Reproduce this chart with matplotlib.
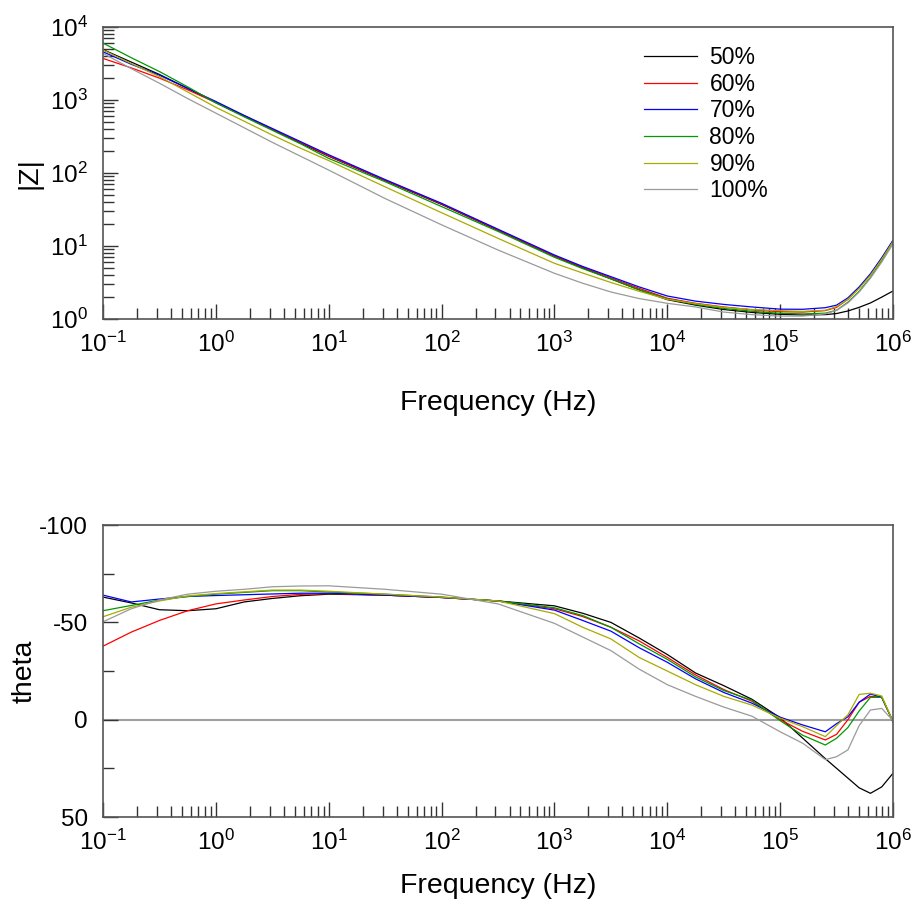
import numpy as np
import matplotlib
matplotlib.use("Agg")
import matplotlib.pyplot as plt
from matplotlib.ticker import LogLocator, NullFormatter, FixedLocator, LogFormatterSciNotation

plt.rcParams['font.family'] = ['Liberation Sans', 'DejaVu Sans']
plt.rcParams['mathtext.fontset'] = 'custom'
plt.rcParams['mathtext.rm'] = 'Liberation Sans'
plt.rcParams['mathtext.it'] = 'Liberation Sans:italic'
plt.rcParams['mathtext.bf'] = 'Liberation Sans:bold'

# ---- data ----
labels = ['50%', '60%', '70%', '80%', '90%', '100%']
colors = ['#000000', '#ff0000', '#0000ff', '#009900', '#aaaa00', '#9a9a9a']

log_freq = [-1, -0.75, -0.5, -0.25, 0, 0.25, 0.5, 0.75, 1, 1.5, 2, 2.5, 3, 3.25,
            3.5, 3.75, 4, 4.25, 4.5, 4.75, 5, 5.2, 5.4, 5.5, 5.6, 5.7, 5.8, 5.9, 6.0]

# log10 |Z|
logZ_50 = [3.69, 3.52, 3.35, 3.16, 2.965, 2.78, 2.595, 2.41, 2.23, 1.895, 1.57, 1.215, 0.86, 0.70,
           0.55, 0.40, 0.265, 0.19, 0.13, 0.09, 0.064, 0.055, 0.06, 0.075, 0.11, 0.16, 0.22, 0.30, 0.384]
logZ_60 = [3.57, 3.44, 3.30, 3.14, 2.965, 2.785, 2.60, 2.42, 2.235, 1.90, 1.575, 1.22, 0.865, 0.71,
           0.565, 0.42, 0.285, 0.215, 0.165, 0.125, 0.10, 0.095, 0.115, 0.16, 0.27, 0.43, 0.61, 0.83, 1.07]
logZ_70 = [3.66, 3.49, 3.34, 3.16, 2.98, 2.79, 2.61, 2.43, 2.25, 1.91, 1.585, 1.23, 0.877, 0.72,
           0.58, 0.44, 0.315, 0.245, 0.20, 0.165, 0.135, 0.133, 0.155, 0.19, 0.29, 0.44, 0.62, 0.84, 1.08]
logZ_80 = [3.78, 3.58, 3.39, 3.18, 2.96, 2.77, 2.585, 2.40, 2.20, 1.88, 1.54, 1.20, 0.845, 0.69,
           0.55, 0.40, 0.275, 0.20, 0.145, 0.105, 0.078, 0.07, 0.08, 0.12, 0.23, 0.38, 0.57, 0.80, 1.06]
logZ_90 = [3.685, 3.50, 3.32, 3.11, 2.90, 2.71, 2.52, 2.34, 2.17, 1.81, 1.456, 1.105, 0.763, 0.63,
           0.50, 0.38, 0.27, 0.21, 0.16, 0.13, 0.114, 0.105, 0.12, 0.17, 0.27, 0.42, 0.60, 0.82, 1.06]
logZ_100 = [3.64, 3.43, 3.23, 3.02, 2.82, 2.62, 2.42, 2.23, 2.04, 1.65, 1.29, 0.945, 0.626, 0.49,
            0.37, 0.28, 0.215, 0.165, 0.095, 0.06, 0.04, 0.04, 0.07, 0.12, 0.22, 0.37, 0.56, 0.78, 1.03]

# phase angle theta (degrees)
theta_50 = [-63.0, -60.0, -56.5, -56.0, -57.0, -60.5, -62.3, -63.7, -64.5, -64.0, -62.8, -61.0, -58.5, -54.7,
            -50.0, -42.0, -33.5, -24.0, -17.5, -10.5, -1.0, 9.5, 20.0, 25.0, 30.0, 35.0, 37.8, 34.5, 27.5]
theta_60 = [-37.8, -45.0, -51.0, -56.0, -59.5, -61.5, -63.3, -64.4, -64.8, -64.0, -62.8, -61.0, -57.0, -53.0,
            -47.5, -40.5, -32.0, -23.0, -15.5, -9.5, 0.0, 6.0, 10.4, 7.5, 0.0, -9.0, -12.0, -11.5, 1.0]
theta_70 = [-64.0, -60.5, -62.0, -63.3, -63.8, -64.2, -64.6, -65.0, -65.0, -64.0, -62.8, -61.0, -56.3, -51.0,
            -45.5, -37.0, -29.5, -21.0, -14.0, -8.5, -1.3, 2.7, 6.2, 2.0, -1.5, -9.0, -13.2, -11.5, 1.0]
theta_80 = [-56.0, -58.7, -61.5, -63.3, -64.5, -65.4, -66.3, -66.3, -65.6, -64.5, -63.0, -61.0, -57.5, -53.5,
            -47.5, -39.0, -31.0, -22.0, -15.0, -10.0, 0.5, 8.0, 13.0, 9.5, 4.0, -4.5, -11.5, -11.5, 1.0]
theta_90 = [-52.9, -57.8, -61.0, -63.6, -64.8, -65.7, -66.6, -66.6, -66.0, -64.5, -63.0, -61.0, -54.5, -47.5,
            -41.5, -32.0, -25.0, -18.0, -12.0, -7.5, -0.8, 3.6, 8.7, 3.0, -2.5, -13.0, -13.6, -12.2, 1.0]
theta_100 = [-50.3, -57.0, -61.5, -64.5, -66.0, -67.0, -68.3, -68.7, -68.8, -67.0, -64.5, -59.5, -49.5, -42.5,
             -35.5, -26.0, -18.0, -12.0, -6.5, -1.8, 6.2, 12.1, 20.5, 19.0, 15.5, 3.0, -5.0, -5.8, 0.5]

freq_ticks = [1e-1, 1e0, 1e1, 1e2, 1e3, 1e4, 1e5, 1e6]
z_ticks = [1e0, 1e1, 1e2, 1e3, 1e4]
theta_ticks = [-100, -50, 0, 50]
theta_tick_labels = ['-100', '-50', '0', '50']
theta_minor = [-75, -25, 25]

logZ_all = [logZ_50, logZ_60, logZ_70, logZ_80, logZ_90, logZ_100]
theta_all = [theta_50, theta_60, theta_70, theta_80, theta_90, theta_100]

freq = 10.0 ** np.array(log_freq)

# ---- figure ----
fig = plt.figure(figsize=(9.15, 9.13), dpi=100)
ax1 = fig.add_axes([0.1126, 0.6506, 0.8634, 0.3198])
ax2 = fig.add_axes([0.1126, 0.1051, 0.8634, 0.3198])

spine_c = '#555555'
for ax in (ax1, ax2):
    for s in ax.spines.values():
        s.set_color(spine_c)
        s.set_linewidth(1.2)
    ax.set_xscale('log')
    ax.set_xlim(0.1, 1e6)
    ax.xaxis.set_major_locator(FixedLocator(freq_ticks))
    ax.xaxis.set_major_formatter(LogFormatterSciNotation())
    ax.xaxis.set_minor_locator(LogLocator(base=10, subs=np.arange(2, 10), numticks=20))
    ax.xaxis.set_minor_formatter(NullFormatter())
    ax.tick_params(which='both', direction='in', top=False, right=False,
                   color='#333333', width=1.0, labelsize=17.5)
    ax.tick_params(which='major', length=11)
    ax.tick_params(which='minor', length=8)
    ax.tick_params(axis='x', which='major', pad=9)
    ax.tick_params(axis='y', which='major', pad=11)

ax1.set_xlabel('Frequency (Hz)', fontsize=20.5, labelpad=24)
ax2.set_xlabel('Frequency (Hz)', fontsize=20.5, labelpad=13)

# top: |Z|
for lz, c, lab in zip(logZ_all, colors, labels):
    ax1.plot(freq, 10.0 ** np.array(lz), color=c, lw=0.9, label=lab)
ax1.set_yscale('log')
ax1.set_ylim(1, 1e4)
ax1.yaxis.set_major_locator(FixedLocator(z_ticks))
ax1.yaxis.set_major_formatter(LogFormatterSciNotation())
ax1.yaxis.set_minor_locator(LogLocator(base=10, subs=np.arange(2, 10), numticks=10))
ax1.yaxis.set_minor_formatter(NullFormatter())
ax1.set_ylabel('|Z|', fontsize=20.5)
ax1.yaxis.set_label_coords(-0.076, 0.5)
leg = ax1.legend(loc='upper left', bbox_to_anchor=(0.685, 0.935), frameon=False,
                 fontsize=16.5, borderpad=0, borderaxespad=0, handlelength=2.3,
                 handletextpad=0.55, labelspacing=0.16)

# bottom: theta
ax2.axhline(0, color='#a0a0a0', lw=1.5, zorder=1)
for th, c, lab in zip(theta_all, colors, labels):
    ax2.plot(freq, th, color=c, lw=0.9, label=lab, zorder=2)
ax2.set_ylim(50, -100)
ax2.yaxis.set_major_locator(FixedLocator(theta_ticks))
ax2.set_yticklabels(theta_tick_labels)
ax2.yaxis.set_minor_locator(FixedLocator(theta_minor))
ax2.set_ylabel('theta', fontsize=20.5)
ax2.yaxis.set_label_coords(-0.083, 0.5)

fig.savefig('out.png', dpi=100)
